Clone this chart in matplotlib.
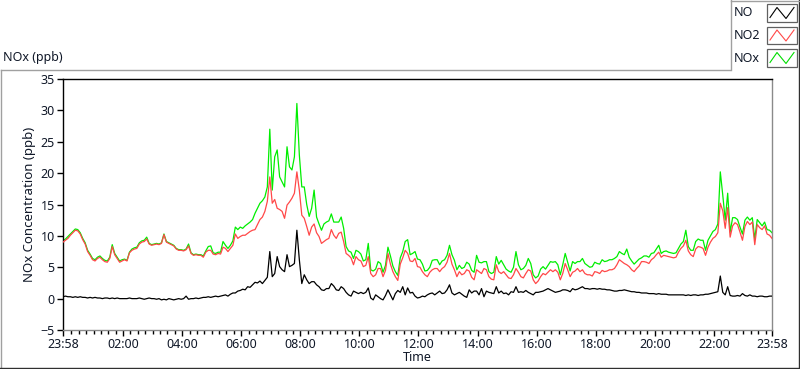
import matplotlib
matplotlib.use("Agg")
import matplotlib.pyplot as plt
import numpy as np
from matplotlib.lines import Line2D
from matplotlib.patches import Rectangle

# minutes after the 23:58 start, one reading every 5 minutes (12 per row = 1 hour)
step_min = 5

no2 = [
    9.0, 9.3, 9.6, 10.1, 10.5, 10.9, 10.8, 10.3, 9.4, 8.7, 7.5, 6.9,
    6.2, 6.0, 6.4, 6.6, 6.2, 5.9, 5.8, 6.4, 8.3, 7.0, 6.4, 5.8,
    6.0, 6.2, 6.0, 7.3, 7.7, 7.9, 8.0, 8.7, 9.0, 9.1, 9.5, 8.7,
    8.5, 8.6, 8.7, 8.6, 8.8, 10.2, 9.0, 8.8, 8.6, 8.4, 7.9, 7.7,
    7.7, 7.6, 7.8, 8.4, 7.2, 6.9, 7.0, 6.9, 6.9, 6.6, 7.4, 7.7,
    7.7, 7.1, 7.0, 7.2, 7.1, 8.2, 8.0, 7.5, 8.0, 8.5, 10.3, 9.6,
    9.9, 10.1, 10.1, 10.4, 10.7, 10.9, 11.0, 11.8, 12.6, 13.0, 13.9, 15.5,
    19.4, 15.2, 15.8, 14.4, 14.2, 13.9, 12.8, 14.9, 15.4, 16.0, 16.8, 20.2,
    17.3, 13.3, 12.8, 11.5, 10.1, 11.4, 11.9, 10.5, 9.9, 8.8, 9.1, 9.4,
    9.6, 11.0, 10.1, 9.6, 10.4, 10.6, 9.1, 7.2, 6.9, 6.5, 5.4, 6.7,
    6.2, 6.0, 5.1, 5.3, 6.7, 4.0, 3.5, 3.8, 4.8, 4.8, 3.5, 4.5,
    7.2, 5.5, 4.3, 3.5, 2.9, 5.5, 6.5, 7.7, 7.2, 6.0, 5.9, 6.4,
    5.1, 5.0, 4.3, 3.8, 3.5, 4.2, 4.6, 4.8, 4.8, 4.3, 4.8, 5.1,
    5.8, 7.2, 5.5, 4.6, 3.5, 4.3, 3.8, 4.0, 4.6, 4.4, 3.4, 3.0,
    4.6, 4.3, 4.0, 4.8, 4.6, 3.5, 3.1, 3.0, 5.4, 4.3, 4.0, 4.3,
    3.8, 3.3, 3.2, 3.8, 4.8, 4.2, 3.5, 3.3, 4.0, 4.6, 4.4, 3.0,
    2.4, 2.8, 3.5, 4.0, 3.8, 4.2, 4.6, 4.3, 4.6, 4.2, 3.0, 4.0,
    5.6, 4.6, 3.5, 4.2, 4.4, 4.8, 4.3, 4.6, 4.0, 3.8, 3.8, 3.6,
    4.3, 4.2, 4.0, 4.5, 4.3, 4.4, 4.6, 4.6, 4.8, 5.4, 6.2, 5.9,
    5.6, 5.4, 5.1, 4.6, 4.3, 4.8, 5.2, 5.9, 5.9, 5.8, 5.6, 6.2,
    6.5, 7.0, 7.4, 6.6, 6.9, 6.8, 6.7, 6.6, 6.5, 6.6, 7.4, 8.0,
    8.4, 9.3, 7.6, 7.0, 6.7, 7.9, 8.3, 8.2, 8.0, 6.9, 8.2, 9.0,
    9.6, 9.9, 10.5, 15.2, 14.0, 11.2, 14.5, 9.8, 11.6, 12.1, 11.8, 10.6,
    9.3, 11.5, 12.3, 11.8, 12.2, 8.6, 11.8, 11.3, 11.0, 11.6, 10.3, 10.1,
    9.6,
]

nox = [
    9.2, 9.5, 9.9, 10.3, 10.7, 11.1, 11.0, 10.5, 9.6, 8.9, 7.7, 7.1,
    6.4, 6.2, 6.6, 6.8, 6.4, 6.1, 6.0, 6.6, 8.6, 7.2, 6.6, 6.0,
    6.2, 6.3, 6.1, 7.4, 7.9, 8.1, 8.2, 8.9, 9.2, 9.3, 9.8, 8.8,
    8.6, 8.7, 8.8, 8.7, 8.9, 10.3, 9.1, 8.9, 8.7, 8.5, 8.0, 7.8,
    7.8, 7.7, 7.9, 8.7, 7.3, 7.0, 7.1, 7.0, 7.0, 6.8, 7.6, 8.3,
    8.4, 7.3, 7.2, 7.4, 7.4, 9.1, 8.5, 8.0, 8.5, 9.2, 11.4, 11.0,
    11.4, 11.2, 11.6, 11.9, 12.2, 12.6, 13.6, 14.4, 15.2, 15.6, 16.2, 17.8,
    27.0, 17.3, 22.6, 23.7, 19.4, 18.6, 17.8, 24.2, 21.0, 20.5, 22.6, 31.1,
    22.9, 17.8, 17.8, 15.0, 13.1, 14.4, 17.3, 13.0, 11.9, 10.9, 11.9, 12.2,
    12.4, 13.5, 12.2, 12.2, 12.2, 13.0, 11.2, 8.3, 7.6, 7.4, 6.4, 7.7,
    7.5, 7.1, 6.0, 6.2, 8.8, 4.6, 4.4, 4.7, 5.9, 5.6, 4.2, 5.3,
    8.2, 6.8, 5.2, 4.3, 3.7, 6.5, 7.5, 9.1, 9.4, 7.0, 7.2, 7.5,
    6.3, 6.2, 5.5, 4.4, 4.5, 5.0, 6.1, 6.2, 6.2, 5.4, 6.0, 6.2,
    6.9, 8.5, 7.0, 6.1, 4.6, 5.3, 4.8, 5.0, 5.8, 5.5, 4.5, 4.2,
    6.9, 5.8, 5.7, 5.9, 5.9, 4.3, 4.0, 4.2, 6.7, 5.5, 6.1, 5.4,
    4.7, 4.4, 4.2, 5.0, 7.5, 5.4, 4.6, 4.8, 5.3, 6.4, 5.6, 3.8,
    3.3, 3.6, 4.7, 5.1, 4.7, 5.3, 5.9, 5.8, 5.9, 5.4, 3.8, 5.4,
    7.2, 5.8, 4.4, 5.9, 5.6, 5.9, 5.9, 6.4, 5.6, 5.3, 5.0, 5.1,
    5.8, 5.6, 5.5, 6.2, 5.9, 6.0, 6.2, 6.2, 6.4, 6.7, 7.5, 7.2,
    7.0, 7.9, 6.6, 6.0, 5.5, 5.9, 6.3, 6.5, 6.8, 6.8, 6.6, 7.2,
    7.3, 7.9, 8.5, 7.2, 7.5, 7.6, 7.4, 7.3, 7.2, 7.3, 8.0, 8.7,
    9.1, 10.9, 8.3, 7.7, 7.7, 9.1, 9.5, 9.3, 9.3, 7.7, 9.3, 10.0,
    10.7, 11.0, 11.9, 20.2, 16.5, 12.5, 16.8, 10.6, 12.9, 12.9, 12.6, 11.4,
    10.3, 12.5, 13.0, 12.5, 12.9, 9.5, 12.6, 12.1, 11.6, 12.2, 11.0, 10.9,
    10.5,
]

no = [
    0.3, 0.4, 0.3, 0.3, 0.2, 0.3, 0.2, 0.3, 0.2, 0.2, 0.1, 0.2,
    0.1, 0.2, 0.1, 0.1, 0.0, 0.1, 0.1, 0.0, 0.1, 0.0, 0.1, 0.0,
    0.0, 0.0, 0.0, 0.1, 0.0, 0.0, 0.0, 0.1, 0.0, -0.1, 0.0, 0.1,
    0.0, 0.0, -0.1, 0.0, -0.2, -0.1, -0.2, 0.0, -0.1, -0.2, -0.1, 0.0,
    -0.1, 0.0, 0.4, -0.1, 0.0, 0.0, 0.1, 0.0, 0.1, 0.2, 0.2, 0.3,
    0.2, 0.3, 0.4, 0.3, 0.4, 0.5, 0.6, 0.4, 0.7, 0.9, 0.9, 1.2,
    1.3, 1.5, 1.4, 1.9, 1.8, 2.2, 2.6, 2.5, 2.8, 2.4, 2.9, 3.4,
    7.5, 3.5, 4.0, 6.7, 5.1, 4.6, 4.3, 7.0, 5.1, 5.3, 5.6, 10.9,
    6.2, 2.4, 3.8, 3.0, 2.4, 2.7, 2.7, 2.2, 1.9, 1.4, 1.3, 1.6,
    1.6, 2.4, 2.0, 1.4, 1.3, 1.9, 1.6, 1.0, 0.6, 0.4, 1.2, 1.0,
    0.8, 1.0, 0.8, 1.0, 1.7, 0.1, -0.2, 0.6, 0.3, 0.0, -0.2, 0.5,
    1.4, 0.6, -0.2, 0.8, 1.3, 1.0, 1.9, 0.6, 1.7, 0.9, 1.0, 0.4,
    0.1, 0.2, 0.4, 0.3, 0.6, 0.8, 0.9, 0.6, 0.9, 1.2, 0.8, 0.9,
    1.4, 2.2, 0.9, 0.6, 0.8, 1.0, 0.7, 0.4, 0.2, 1.4, 0.9, 1.2,
    1.2, 0.6, 1.6, 0.3, 1.2, 1.0, 0.9, 0.8, 1.9, 0.9, 1.2, 0.8,
    0.9, 0.6, 1.1, 1.0, 1.9, 1.0, 1.1, 1.0, 1.3, 1.0, 0.8, 0.6,
    1.0, 1.0, 1.1, 1.2, 1.4, 1.6, 1.4, 1.2, 1.0, 1.1, 1.2, 1.4,
    1.4, 1.3, 1.1, 1.6, 1.4, 1.5, 1.7, 1.9, 1.6, 1.6, 1.5, 1.6,
    1.6, 1.5, 1.6, 1.5, 1.5, 1.4, 1.4, 1.3, 1.2, 1.2, 1.3, 1.3,
    1.4, 1.3, 1.2, 1.1, 1.1, 1.0, 1.0, 0.9, 0.9, 0.9, 0.8, 0.8,
    0.8, 0.7, 0.8, 0.7, 0.7, 0.7, 0.6, 0.6, 0.6, 0.6, 0.6, 0.6,
    0.6, 0.5, 0.6, 0.5, 0.6, 0.6, 0.5, 0.6, 0.6, 0.7, 0.7, 0.8,
    0.9, 1.0, 1.1, 3.6, 1.0, 0.6, 1.9, 0.5, 0.4, 0.4, 0.5, 0.4,
    0.8, 0.5, 0.4, 0.6, 0.4, 0.4, 0.3, 0.4, 0.4, 0.3, 0.3, 0.4,
    0.4,
]

major_labels = ["23:58", "02:00", "04:00", "06:00", "08:00", "10:00", "12:00",
                "14:00", "16:00", "18:00", "20:00", "22:00", "23:58"]

txt = "#101828"
fs = 9
plt.rcParams["font.family"] = ["Noto Sans", "DejaVu Sans"]

W, H = 800, 369
fig = plt.figure(figsize=(8, 3.69), dpi=100)
fig.patch.set_facecolor("white")


def fx(x):
    return x / W


def fy(y):
    return 1 - y / H


ax = fig.add_axes([fx(63), fy(330), fx(772) - fx(63), fy(79) - fy(330)])

t = np.arange(len(no2)) * step_min
ax.plot(t, nox, color="#00ee00", lw=0.9, zorder=2)
ax.plot(t, no2, color="#ff4848", lw=0.9, zorder=3)
ax.plot(t, no, color="black", lw=0.9, zorder=4)

ax.set_xlim(0, 1440)
ax.set_ylim(-5, 35)

# start is 23:58, so 00:00 sits 2 minutes in
major_pos = [0] + [2 + 120 * k for k in range(1, 12)] + [1440]
minor_pos = [2 + 15 * k for k in range(1, 96) if k % 8 != 0]
ax.set_xticks(major_pos)
ax.set_xticklabels(major_labels)
ax.set_xticks(minor_pos, minor=True)
ax.set_yticks(np.arange(-5, 36, 5))

ax.tick_params(axis="both", which="major", length=4, width=1, color="black",
               labelsize=fs, labelcolor=txt, pad=2)
ax.tick_params(axis="x", which="minor", length=3, width=1, color="black")
ax.tick_params(axis="y", which="minor", left=False)

for side in ["left", "top"]:
    ax.spines[side].set_color("black")
for side in ["right", "bottom"]:
    ax.spines[side].set_color("#8a8a8a")
for s in ax.spines.values():
    s.set_linewidth(1.0)

ax.set_xlabel("Time", fontsize=fs, color=txt, labelpad=0)
ax.set_ylabel("NOx Concentration (ppb)", fontsize=9.5, color=txt, labelpad=3)

# outer panel frame
gray = "#a0a0a0"
fig.add_artist(Line2D([fx(0.5), fx(730)], [fy(69.5), fy(69.5)], color=gray, lw=1))
fig.add_artist(Line2D([fx(0.5), fx(0.5)], [fy(69.5), fy(368)], color=gray, lw=1))
fig.add_artist(Line2D([fx(0), fx(799)], [fy(368), fy(368)], color="#303030", lw=1))
fig.add_artist(Line2D([fx(799), fx(799)], [fy(0), fy(368)], color="#303030", lw=1))

fig.text(fx(3), fy(58), "NOx (ppb)", fontsize=fs, color=txt, va="center", ha="left")

# legend panel
fig.add_artist(Line2D([fx(730.5), fx(730.5)], [fy(0), fy(69.5)], color=gray, lw=1))
fig.add_artist(Line2D([fx(730.5), fx(799)], [fy(0.5), fy(0.5)], color=gray, lw=1))
leg_items = [("NO", "black", 13), ("NO2", "#ff4848", 35.5), ("NOx", "#00dd00", 58)]
for name, col, yc in leg_items:
    fig.text(fx(734), fy(yc), name, fontsize=fs, color=txt, va="center", ha="left")
    x0, x1 = 767, 797
    y0, y1 = yc - 8.5, yc + 8.5
    fig.add_artist(Rectangle((fx(x0), fy(y1)), fx(x1) - fx(x0), fy(y0) - fy(y1),
                             facecolor="white", edgecolor="#606060", lw=0.9))
    zx = [x0 + 3, x0 + 10, x0 + 19, x1 - 3]
    zy = [y1 - 4, y0 + 3, y1 - 3, y0 + 3]
    fig.add_artist(Line2D([fx(v) for v in zx], [fy(v) for v in zy], color=col, lw=0.8))

fig.savefig("out.png", dpi=100)
